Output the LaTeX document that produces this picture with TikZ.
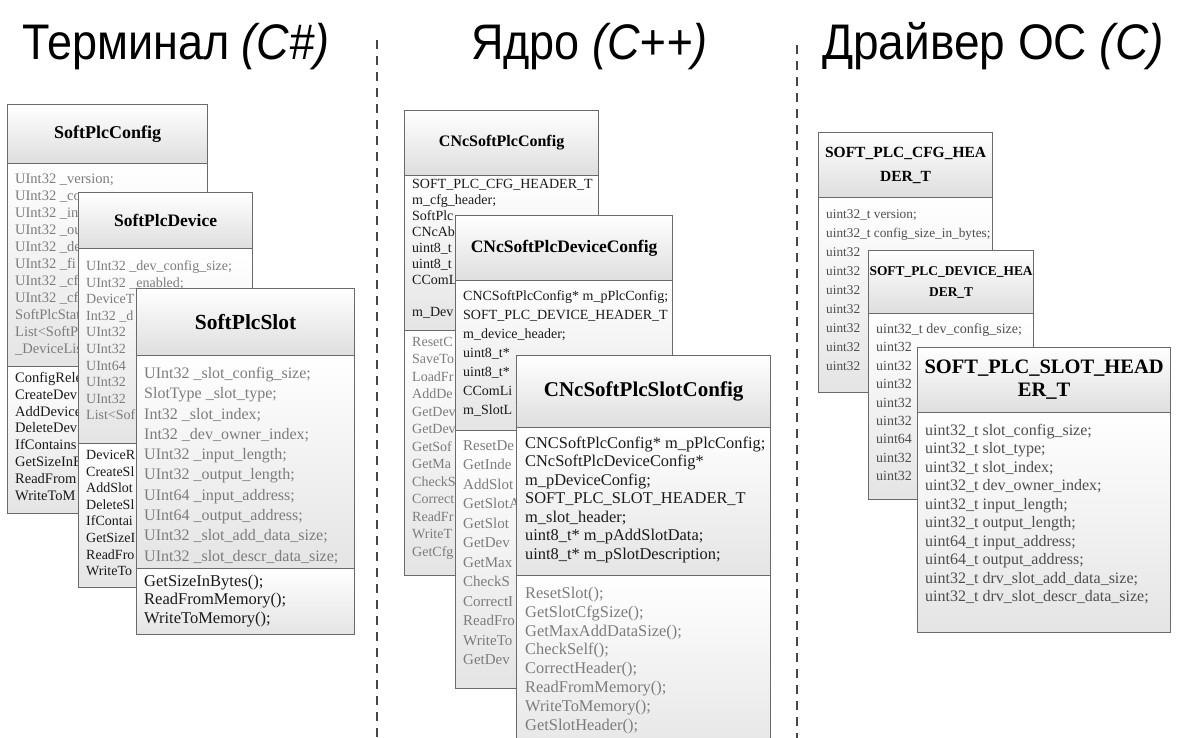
\documentclass[tikz,border=0pt]{standalone}
\usepackage{fontspec}
\setmainfont{Liberation Serif}
\newfontfamily\titlefont{Liberation Sans}
\usepackage{tikz}
\definecolor{boxgray}{HTML}{6A6A6A}
\definecolor{txtgray}{HTML}{7C7C7C}
\definecolor{txtdark}{HTML}{1A1A1A}
\definecolor{txtmid}{HTML}{4E4E4E}
\tikzstyle{hdr} = [draw=boxgray, line width=1.2pt, top color=white, bottom color=gray!26, anchor=north west, inner sep=0pt, align=center, text=black]
\tikzstyle{sec} = [draw=boxgray, line width=1.2pt, top color=white, bottom color=gray!21, anchor=north west, inner sep=0pt]
\tikzstyle{row} = [anchor=west, inner sep=0pt, text height=0.68em, text depth=0.2em]
\tikzstyle{sepline} = [draw=gray!55!black, line width=1.6pt, dash pattern=on 9pt off 7pt]
\tikzstyle{title} = [anchor=base west, inner sep=0pt, font=\titlefont\fontsize{50}{54}\selectfont]

\begin{document}
\begin{tikzpicture}[x=1pt, y=-1pt]
    \useasboundingbox (0,0) rectangle (1180,738);
    % titles
    \node[title] (ttlTerm) at (22,60) {\scalebox{0.9}[1]{Терминал \textit{(C\#)}}};
    \node[title] (ttlCore) at (471,60) {\scalebox{0.9}[1]{Ядро \textit{(C++)}}};
    \node[title] (ttlDrv) at (822,60) {\scalebox{0.92}[1]{Драйвер ОС \textit{(C)}}};
    \coordinate (sepA1) at (377,40);
    \coordinate (sepA2) at (377,738);
    \coordinate (sepB1) at (797,45);
    \coordinate (sepB2) at (797,738);
    \draw[sepline] (sepA1) -- (sepA2);
    \draw[sepline] (sepB1) -- (sepB2);

    % ---- terminal (C#) ----
    \node[hdr, minimum width=200, minimum height=59, font=\bfseries\fontsize{18}{20}\selectfont] (spcHead) at (7,104) {SoftPlcConfig};
    \node[sec, minimum width=200, minimum height=203] (spcAttr) at (7,163) {};
    \node[sec, minimum width=200, minimum height=147] (spcOps) at (7,366) {};
    \foreach \t [count=\i from 0] in {UInt32 \_version;, UInt32 \_co, UInt32 \_in, UInt32 \_ou, UInt32 \_de, UInt32 \_fi, UInt32 \_cf, UInt32 \_cf, SoftPlcStat, List<SoftP, \_DeviceLis}
        \node[row, txtgray, font=\fontsize{14.5}{16}\selectfont] (spcA\i) at (15,181+17*\i) {\t};
    \foreach \t [count=\i from 0] in {ConfigRele, CreateDev, AddDevice, DeleteDev, IfContains, GetSizeInB, ReadFrom, WriteToM}
        \node[row, txtdark, font=\fontsize{14.5}{16}\selectfont] (spcM\i) at (15,380+16.8*\i) {\t};

    \node[hdr, minimum width=174, minimum height=56, font=\bfseries\fontsize{17.5}{20}\selectfont] (spdHead) at (78,192) {SoftPlcDevice};
    \node[sec, minimum width=174, minimum height=195] (spdAttr) at (78,248) {};
    \node[sec, minimum width=174, minimum height=144] (spdOps) at (78,443) {};
    \foreach \t [count=\i from 0] in {UInt32 \_dev\_config\_size;, UInt32 \_enabled;, DeviceT, Int32 \_d, UInt32, UInt32, UInt64, UInt32, UInt32, List<Sof}
        \node[row, txtgray, font=\fontsize{14}{16}\selectfont] (spdA\i) at (86,268+16.6*\i) {\t};
    \foreach \t [count=\i from 0] in {DeviceR, CreateSl, AddSlot, DeleteSl, IfContai, GetSizeI, ReadFro, WriteTo}
        \node[row, txtdark, font=\fontsize{14}{16}\selectfont] (spdM\i) at (86,457+16.6*\i) {\t};

    \node[hdr, minimum width=218, minimum height=67, font=\bfseries\fontsize{21.5}{24}\selectfont] (spsHead) at (136,288) {SoftPlcSlot};
    \node[sec, minimum width=218, minimum height=213] (spsAttr) at (136,355) {};
    \node[sec, minimum width=218, minimum height=66] (spsOps) at (136,568) {};
    \foreach \t [count=\i from 0] in {UInt32 \_slot\_config\_size;, SlotType \_slot\_type;, Int32 \_slot\_index;, Int32 \_dev\_owner\_index;, UInt32 \_input\_length;, UInt32 \_output\_length;, UInt64 \_input\_address;, UInt64 \_output\_address;, UInt32 \_slot\_add\_data\_size;, UInt32 \_slot\_descr\_data\_size;}
        \node[row, txtgray, font=\fontsize{16}{18}\selectfont] (spsA\i) at (144,376+20.3*\i) {\t};
    \foreach \t [count=\i from 0] in {GetSizeInBytes();, ReadFromMemory();, WriteToMemory();}
        \node[row, txtdark, font=\fontsize{16.5}{18}\selectfont] (spsM\i) at (144,584+18.5*\i) {\t};

    % ---- core (C++) ----
    \node[hdr, minimum width=194, minimum height=65, font=\bfseries\fontsize{16}{18}\selectfont] (ncfHead) at (404,110) {CNcSoftPlcConfig};
    \node[sec, minimum width=194, minimum height=155] (ncfAttr) at (404,175) {};
    \node[sec, minimum width=194, minimum height=245] (ncfOps) at (404,330) {};
    \foreach \y/\t [count=\i from 0] in {186/SOFT\_PLC\_CFG\_HEADER\_T, 202/m\_cfg\_header;, 218/SoftPlc, 234/CNcAb, 250/uint8\_t, 266/uint8\_t, 282/CComL, 314/m\_Dev}
        \node[row, txtdark, font=\fontsize{14}{16}\selectfont] (ncfA\i) at (412,\y) {\t};
    \foreach \t [count=\i from 0] in {ResetC, SaveTo, LoadFr, AddDe, GetDev, GetDev, GetSof, GetMa, CheckS, Correct, ReadFr, WriteT, GetCfg}
        \node[row, txtgray, font=\fontsize{14}{16}\selectfont] (ncfM\i) at (412,344+17.5*\i) {\t};

    \node[hdr, minimum width=217, minimum height=65, font=\bfseries\fontsize{17.5}{20}\selectfont] (ndvHead) at (455,215) {CNcSoftPlcDeviceConfig};
    \node[sec, minimum width=217, minimum height=150] (ndvAttr) at (455,280) {};
    \node[sec, minimum width=217, minimum height=258] (ndvOps) at (455,430) {};
    \foreach \t [count=\i from 0] in {CNCSoftPlcConfig* m\_pPlcConfig;, SOFT\_PLC\_DEVICE\_HEADER\_T, m\_device\_header;, uint8\_t*, uint8\_t*, CComLi, m\_SlotL}
        \node[row, txtdark, font=\fontsize{14}{16}\selectfont] (ndvA\i) at (463,298+19*\i) {\t};
    \foreach \t [count=\i from 0] in {ResetDe, GetInde, AddSlot, GetSlotA, GetSlot, GetDev, GetMax, CheckS, CorrectI, ReadFro, WriteTo, GetDev}
        \node[row, txtgray, font=\fontsize{15}{17}\selectfont] (ndvM\i) at (463,448+19.5*\i) {\t};

    \node[hdr, minimum width=254, minimum height=72, font=\bfseries\fontsize{21}{24}\selectfont] (nslHead) at (516,355) {CNcSoftPlcSlotConfig};
    \node[sec, minimum width=254, minimum height=148] (nslAttr) at (516,427) {};
    \node[sec, minimum width=254, minimum height=190] (nslOps) at (516,575) {};
    \foreach \t [count=\i from 0] in {CNCSoftPlcConfig* m\_pPlcConfig;, CNcSoftPlcDeviceConfig*, m\_pDeviceConfig;, SOFT\_PLC\_SLOT\_HEADER\_T, m\_slot\_header;, uint8\_t* m\_pAddSlotData;, uint8\_t* m\_pSlotDescription;}
        \node[row, txtdark, font=\fontsize{16.4}{18}\selectfont] (nslA\i) at (525,446+18.5*\i) {\t};
    \foreach \t [count=\i from 0] in {ResetSlot();, GetSlotCfgSize();, GetMaxAddDataSize();, CheckSelf();, CorrectHeader();, ReadFromMemory();, WriteToMemory();, GetSlotHeader();}
        \node[row, txtgray, font=\fontsize{16.4}{18}\selectfont] (nslM\i) at (525,596+18.8*\i) {\t};

    % ---- driver (C) ----
    \node[hdr, minimum width=174, minimum height=65, font=\bfseries\fontsize{15.5}{24}\selectfont] (dcfHead) at (818,132) {SOFT\_PLC\_CFG\_HEA\\DER\_T};
    \node[sec, minimum width=174, minimum height=195] (dcfAttr) at (818,197) {};
    \foreach \t [count=\i from 0] in {uint32\_t version;, uint32\_t config\_size\_in\_bytes;, uint32, uint32, uint32, uint32, uint32, uint32, uint32}
        \node[row, txtmid, font=\fontsize{13.3}{15}\selectfont] (dcfA\i) at (826,216+19*\i) {\t};

    \node[hdr, minimum width=165, minimum height=63, font=\bfseries\fontsize{13.4}{21}\selectfont] (ddvHead) at (868,250) {SOFT\_PLC\_DEVICE\_HEA\\DER\_T};
    \node[sec, minimum width=165, minimum height=186] (ddvAttr) at (868,313) {};
    \foreach \t [count=\i from 0] in {uint32\_t dev\_config\_size;, uint32, uint32, uint32, uint32, uint32, uint64, uint32, uint32}
        \node[row, txtmid, font=\fontsize{14}{16}\selectfont] (ddvA\i) at (876,331+18.4*\i) {\t};

    \node[hdr, minimum width=253, minimum height=65, font=\bfseries\fontsize{20.5}{23}\selectfont] (dslHead) at (917,347) {SOFT\_PLC\_SLOT\_HEAD\\ER\_T};
    \node[sec, minimum width=253, minimum height=220] (dslAttr) at (917,412) {};
    \foreach \t [count=\i from 0] in {uint32\_t slot\_config\_size;, uint32\_t slot\_type;, uint32\_t slot\_index;, uint32\_t dev\_owner\_index;, uint32\_t input\_length;, uint32\_t output\_length;, uint64\_t input\_address;, uint64\_t output\_address;, uint32\_t drv\_slot\_add\_data\_size;, uint32\_t drv\_slot\_descr\_data\_size;}
        \node[row, txtmid, font=\fontsize{16}{18}\selectfont] (dslA\i) at (925,433+18.5*\i) {\t};
\end{tikzpicture}
\end{document}
